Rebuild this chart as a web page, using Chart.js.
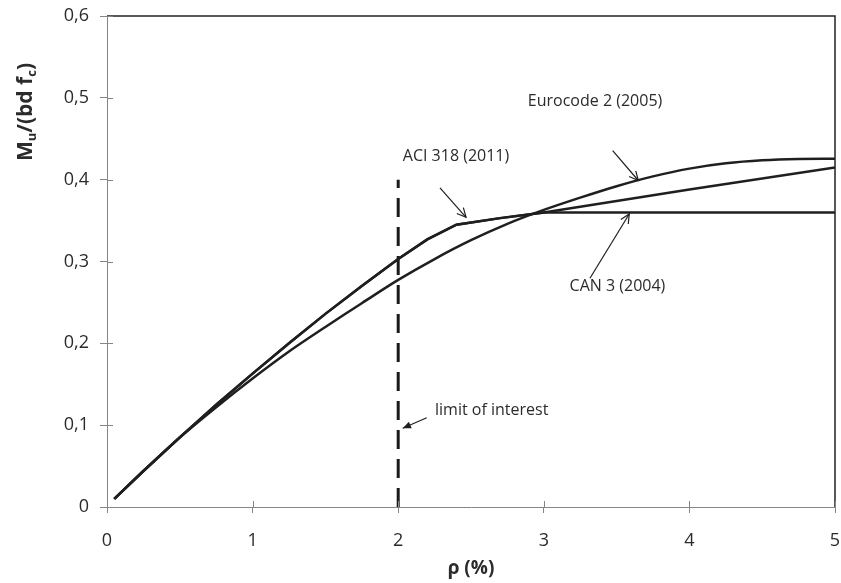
<!DOCTYPE html>
<html>
<head>
<meta charset="utf-8">
<script src="https://cdn.jsdelivr.net/npm/chart.js@4.4.1/dist/chart.umd.min.js"></script>
<style>
  html, body { margin: 0; padding: 0; background: #ffffff; }
  #wrap { width: 841px; height: 583px; }
</style>
</head>
<body>
<div id="wrap"><canvas id="momentChart" width="841" height="583"></canvas></div>
<script>
// reinforcement ratio rho (%) and Mu/(bd fc)
const rhoACI = [0.05, 0.25, 0.5, 0.75, 1.0, 1.25, 1.5, 1.75, 2.0, 2.2, 2.4, 2.7, 3.0, 4.0, 5.0];
const muACI  = [0.010, 0.044, 0.085, 0.125, 0.163, 0.200, 0.236, 0.270, 0.303, 0.327, 0.345, 0.353, 0.360, 0.388, 0.415];

const rhoEC2 = [0.05, 0.25, 0.5, 0.75, 1.0, 1.25, 1.5, 1.75, 2.0, 2.25, 2.5, 2.75, 3.0, 3.25, 3.5, 3.75, 4.0, 4.25, 4.5, 4.75, 5.0];
const muEC2  = [0.010, 0.044, 0.085, 0.122, 0.157, 0.190, 0.220, 0.249, 0.2775, 0.303, 0.326, 0.346, 0.363, 0.378, 0.392, 0.404, 0.4135, 0.420, 0.4237, 0.4253, 0.4255];

const rhoCAN = [0.05, 0.25, 0.5, 0.75, 1.0, 1.25, 1.5, 1.75, 2.0, 2.2, 2.4, 2.7, 3.0, 4.0, 5.0];
const muCAN  = [0.010, 0.044, 0.085, 0.125, 0.163, 0.200, 0.236, 0.270, 0.303, 0.327, 0.345, 0.353, 0.360, 0.360, 0.360];

const rhoLimit = [2, 2];
const muLimit  = [0, 0.4];

const xTickLabels = ['0', '1', '2', '3', '4', '5'];
const yTickLabels = ['0', '0,1', '0,2', '0,3', '0,4', '0,5', '0,6'];

// labels and arrows, in data units
const noteTexts = [
  { text: 'Eurocode 2 (2005)', x: 3.352, y: 0.495, align: 'center' },
  { text: 'ACI 318 (2011)', x: 2.397, y: 0.428, align: 'center' },
  { text: 'CAN 3 (2004)', x: 3.506, y: 0.270, align: 'center' },
  { text: 'limit of interest', x: 2.253, y: 0.1186, align: 'left' }
];
const noteArrows = [
  { from: [3.473, 0.4356], to: [3.649, 0.399], head: 'open' },
  { from: [2.287, 0.390], to: [2.466, 0.354], head: 'open' },
  { from: [3.317, 0.2796], to: [3.587, 0.358], head: 'open' },
  { from: [2.196, 0.109], to: [2.031, 0.0962], head: 'filled' }
];

const toPoints = (xs, ys) => xs.map((x, i) => ({ x: x, y: ys[i] }));

const lineColor = '#1f1f1f';
const axisColor = '#868686';
const textColor = '#2b2b2b';
const fontFamily = '"Open Sans", "Noto Sans", sans-serif';

// frame: black top/right border, cross ticks, titles, notes
const framePlugin = {
  id: 'framePlugin',
  beforeDatasetsDraw(chart) {
    const { ctx, chartArea: a } = chart;
    ctx.save();
    ctx.strokeStyle = '#222222';
    ctx.lineWidth = 1.5;
    ctx.beginPath();
    ctx.moveTo(a.left, a.top);
    ctx.lineTo(a.right, a.top);
    ctx.lineTo(a.right, a.bottom);
    ctx.stroke();
    ctx.restore();
  },
  afterDatasetsDraw(chart) {
    const { ctx, chartArea: a, scales } = chart;
    const xs = scales.x, ys = scales.y;
    ctx.save();
    // inner half of the cross ticks
    ctx.strokeStyle = axisColor;
    ctx.lineWidth = 1;
    ctx.beginPath();
    xs.ticks.forEach(t => {
      const px = Math.round(xs.getPixelForValue(t.value)) + 0.5;
      ctx.moveTo(px, a.bottom);
      ctx.lineTo(px, a.bottom - 6);
    });
    ys.ticks.forEach(t => {
      const py = Math.round(ys.getPixelForValue(t.value)) + 0.5;
      ctx.moveTo(a.left, py);
      ctx.lineTo(a.left + 6, py);
    });
    ctx.stroke();

    // annotation texts
    ctx.fillStyle = textColor;
    ctx.font = '16px ' + fontFamily;
    ctx.textBaseline = 'middle';
    noteTexts.forEach(n => {
      ctx.textAlign = n.align;
      ctx.fillText(n.text, xs.getPixelForValue(n.x), ys.getPixelForValue(n.y));
    });

    // annotation arrows
    ctx.strokeStyle = '#1f1f1f';
    ctx.fillStyle = '#1f1f1f';
    ctx.lineWidth = 1.2;
    noteArrows.forEach(ar => {
      const x1 = xs.getPixelForValue(ar.from[0]), y1 = ys.getPixelForValue(ar.from[1]);
      const x2 = xs.getPixelForValue(ar.to[0]), y2 = ys.getPixelForValue(ar.to[1]);
      const ang = Math.atan2(y2 - y1, x2 - x1);
      const len = ar.head === 'open' ? 10 : 9;
      const spread = ar.head === 'open' ? 0.45 : 0.4;
      ctx.beginPath();
      ctx.moveTo(x1, y1);
      ctx.lineTo(x2, y2);
      ctx.stroke();
      const hx1 = x2 - len * Math.cos(ang - spread), hy1 = y2 - len * Math.sin(ang - spread);
      const hx2 = x2 - len * Math.cos(ang + spread), hy2 = y2 - len * Math.sin(ang + spread);
      ctx.beginPath();
      ctx.moveTo(hx1, hy1);
      ctx.lineTo(x2, y2);
      ctx.lineTo(hx2, hy2);
      if (ar.head === 'open') {
        ctx.stroke();
      } else {
        ctx.closePath();
        ctx.fill();
      }
    });

    // x axis title
    ctx.font = 'bold 19px ' + fontFamily;
    ctx.textAlign = 'center';
    ctx.textBaseline = 'middle';
    ctx.fillStyle = textColor;
    ctx.fillText('\u03c1 (%)', (a.left + a.right) / 2, 569);

    // y axis title with subscripts, rotated
    const parts = [['M', false], ['u', true], ['/(bd f', false], ['c', true], [')', false]];
    const big = 'bold 21px ' + fontFamily;
    const small = 'bold 13px ' + fontFamily;
    let total = 0;
    parts.forEach(p => { ctx.font = p[1] ? small : big; total += ctx.measureText(p[0]).width; });
    ctx.translate(26, 112);
    ctx.rotate(-Math.PI / 2);
    ctx.textAlign = 'left';
    ctx.textBaseline = 'alphabetic';
    let cx = -total / 2;
    parts.forEach(p => {
      ctx.font = p[1] ? small : big;
      ctx.fillText(p[0], cx, p[1] ? 10 : 6);
      cx += ctx.measureText(p[0]).width;
    });
    ctx.restore();
  }
};

const curveStyle = {
  showLine: true,
  borderColor: lineColor,
  borderWidth: 2.5,
  pointRadius: 0,
  tension: 0,
  fill: false
};

const dataMoment = {
  datasets: [
    Object.assign({ label: 'Eurocode 2 (2005)', data: toPoints(rhoEC2, muEC2) }, curveStyle, { tension: 0.3 }),
    Object.assign({ label: 'ACI 318 (2011)', data: toPoints(rhoACI, muACI) }, curveStyle),
    Object.assign({ label: 'CAN 3 (2004)', data: toPoints(rhoCAN, muCAN) }, curveStyle),
    {
      label: 'limit of interest',
      data: toPoints(rhoLimit, muLimit),
      showLine: true,
      borderColor: '#1a1a1a',
      borderWidth: 3,
      borderDash: [19, 10],
      pointRadius: 0
    }
  ]
};

const configMoment = {
  type: 'scatter',
  data: dataMoment,
  options: {
    responsive: false,
    animation: false,
    layout: { padding: { top: 16, right: 6, left: 0, bottom: 0 } },
    plugins: {
      legend: { display: false },
      tooltip: { enabled: false }
    },
    scales: {
      x: {
        type: 'linear',
        min: 0,
        max: 5,
        afterFit: (scale) => { scale.height = 76; scale.paddingLeft = 0; scale.paddingRight = 0; },
        afterBuildTicks: (scale) => { scale.ticks = xTickLabels.map((t, i) => ({ value: i })); },
        grid: { drawOnChartArea: false, color: axisColor, tickLength: 6 },
        border: { color: axisColor, width: 1 },
        ticks: {
          color: textColor,
          padding: 17,
          callback: (v, i) => xTickLabels[i],
          font: { size: 18, family: fontFamily }
        }
      },
      y: {
        type: 'linear',
        min: 0,
        max: 0.6,
        afterFit: (scale) => { scale.width = 107; scale.paddingTop = 0; scale.paddingBottom = 0; },
        afterBuildTicks: (scale) => { scale.ticks = yTickLabels.map((t, i) => ({ value: i / 10 })); },
        grid: { drawOnChartArea: false, color: axisColor, tickLength: 7 },
        border: { color: axisColor, width: 1 },
        ticks: {
          color: textColor,
          padding: 11,
          callback: (v, i) => yTickLabels[i],
          font: { size: 18, family: fontFamily }
        }
      }
    }
  },
  plugins: [framePlugin]
};

new Chart(document.getElementById('momentChart').getContext('2d'), configMoment);
</script>
</body>
</html>
